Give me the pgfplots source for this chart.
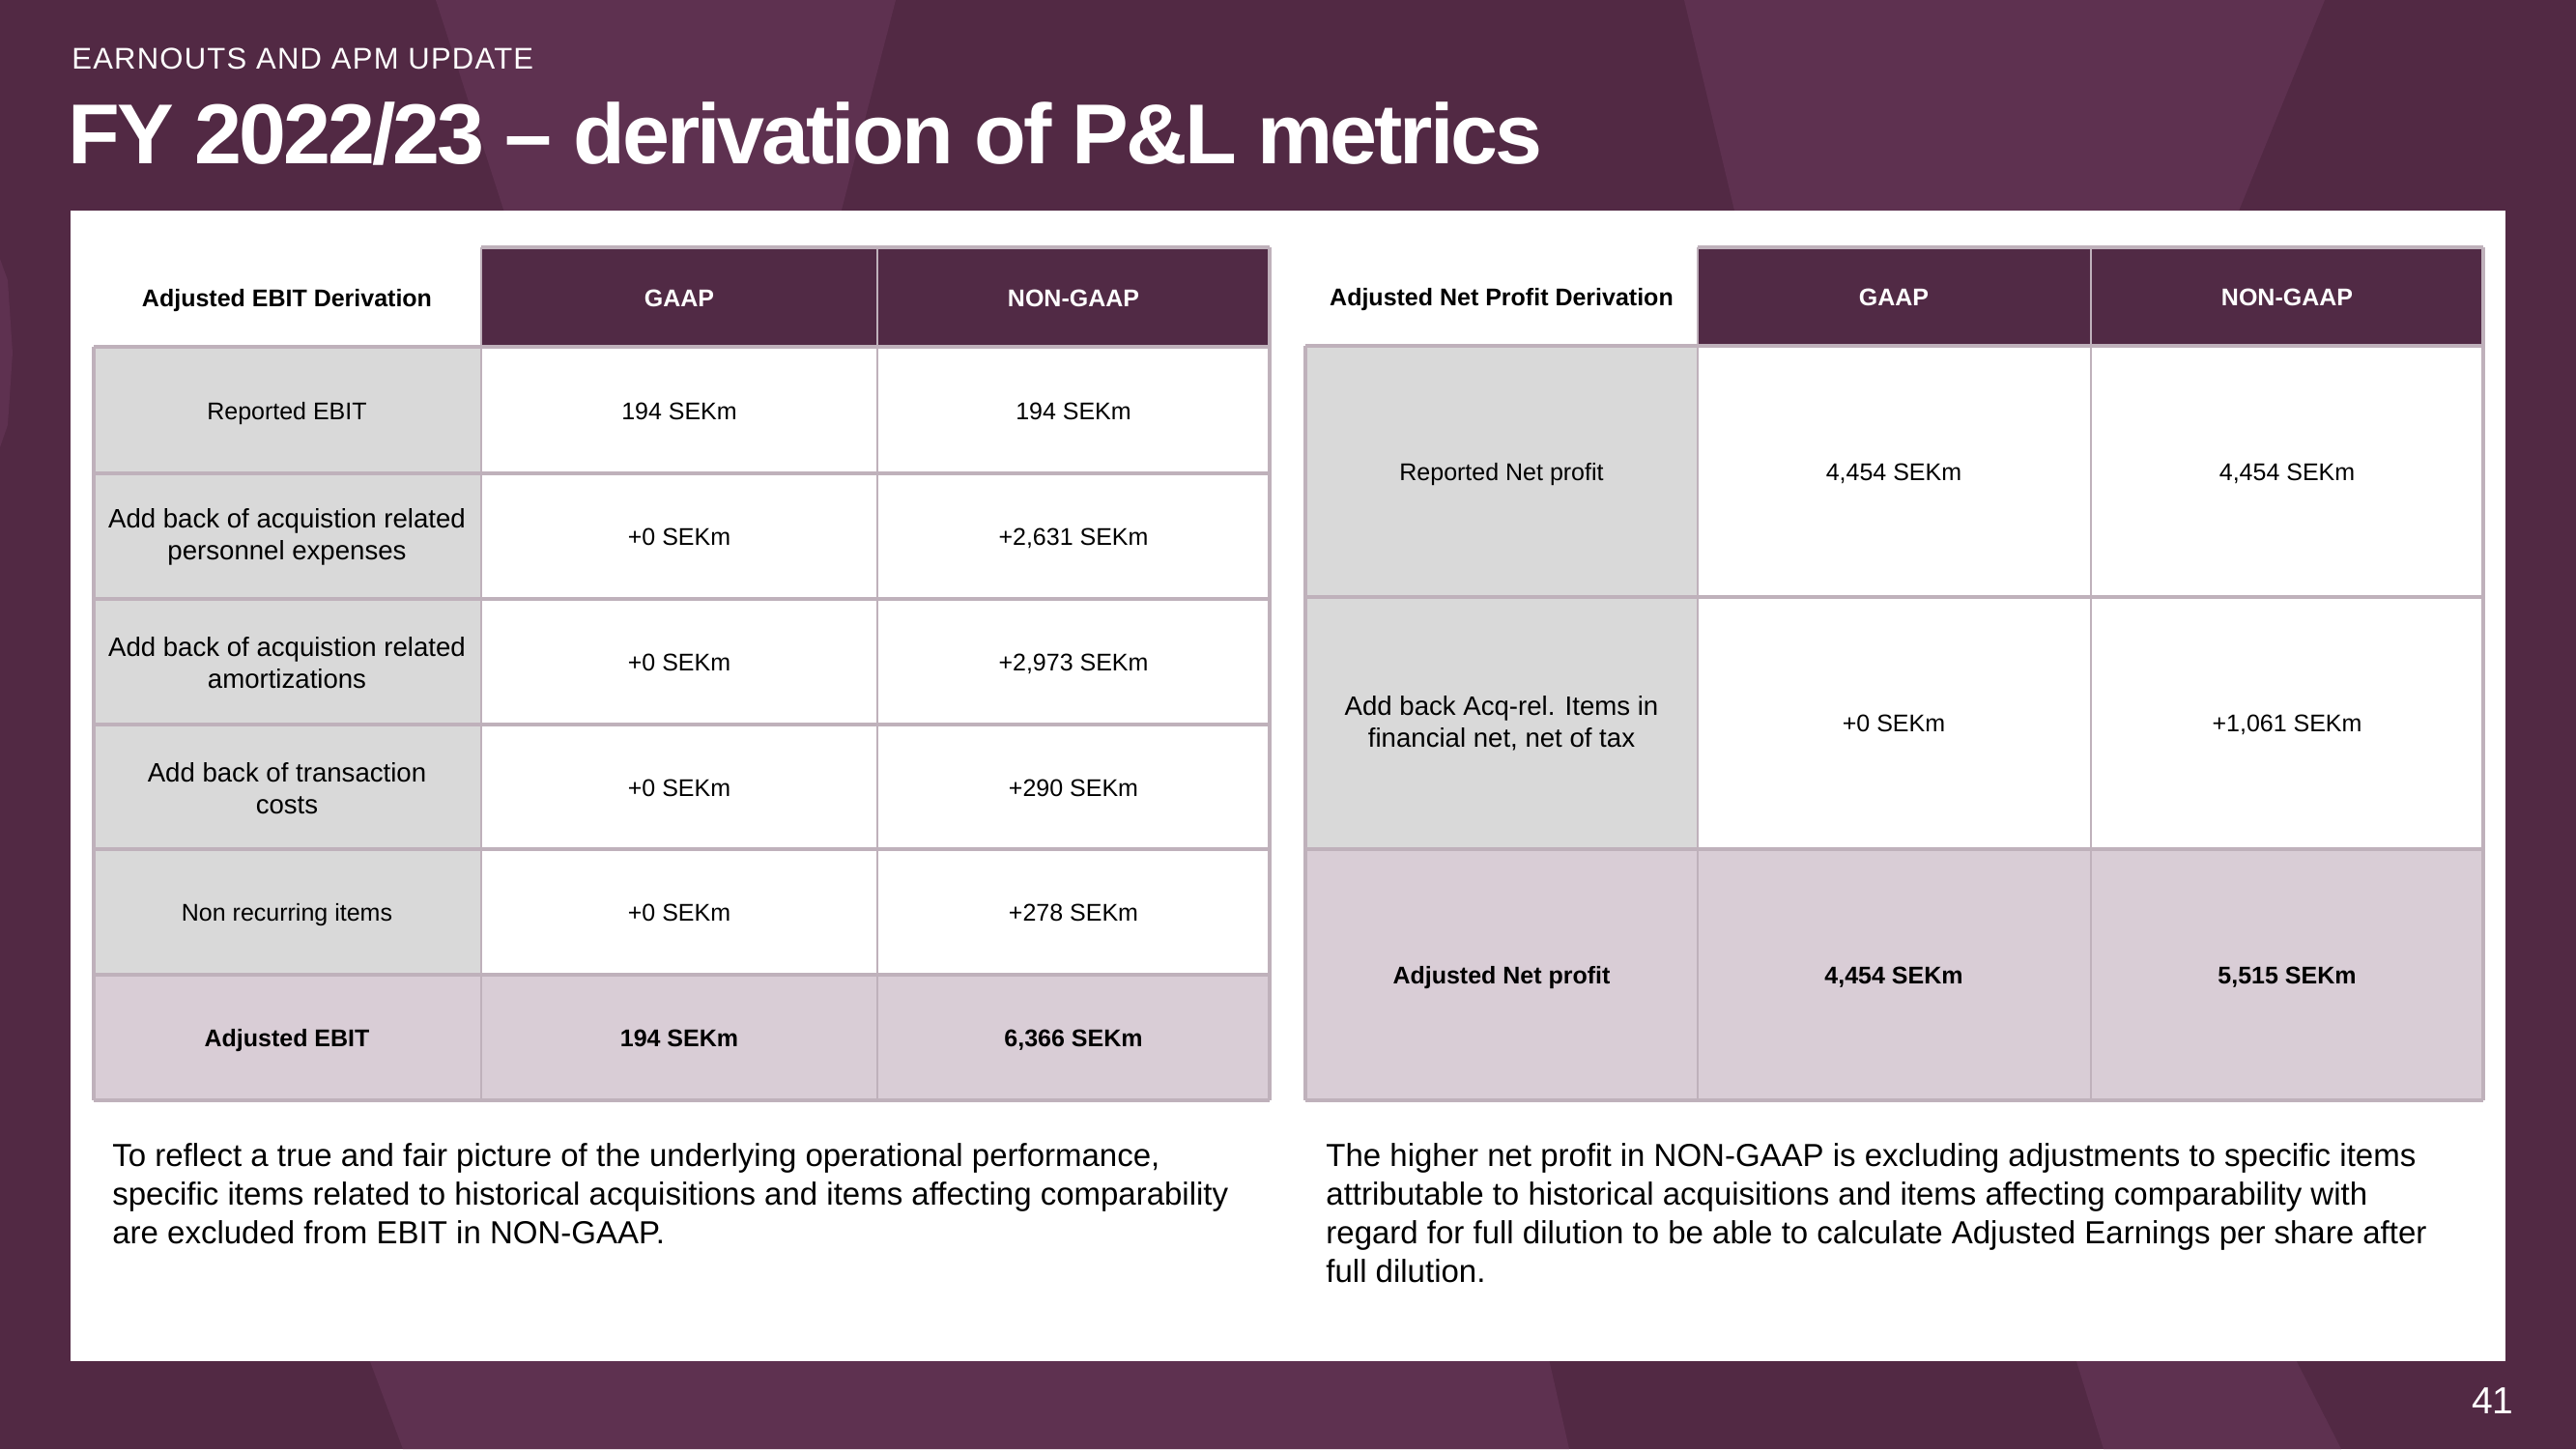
\documentclass[border=0pt]{standalone}
\usepackage{pgfplots}
\pgfplotsset{compat=1.18}
\usepackage{fontspec}
\setmainfont{Liberation Sans}
\newfontfamily\titlefont[LetterSpace=-3.4]{Liberation Sans}
\newfontfamily\subfont[LetterSpace=4]{Liberation Sans}
\definecolor{bg}{HTML}{522944}
\definecolor{bglight}{HTML}{5E3150}
\definecolor{hdr}{HTML}{512A45}
\definecolor{gridc}{HTML}{BFB1BB}
\definecolor{lab}{HTML}{D9D9D9}
\definecolor{adj}{HTML}{D9CDD6}
\newcommand\fsa{\fontsize{12.5}{15}\selectfont}
\newcommand\fsb{\fontsize{13.8}{16.5}\selectfont}
\newcommand\fsc{\fontsize{16.5}{20}\selectfont}
\tikzset{
  cell/.style={align=center,text=black,inner sep=0pt},
  one/.style={anchor=base,text=black,inner sep=0pt,yshift=-4.5pt},
  hl/.style={draw=gridc,line width=1.7pt},
  vl/.style={draw=gridc,line width=1.1pt}}
\begin{document}
\begin{tikzpicture}
\begin{axis}[width=1333pt,height=750pt,scale only axis,
  xmin=0,xmax=2666,ymin=0,ymax=1500,y dir=reverse,hide axis,clip=false]
% background
\fill[bg] (axis cs:0,0) rectangle (axis cs:2666,1500);
\fill[bglight] (axis cs:451,0) -- (axis cs:927,0) -- (axis cs:860,260) -- (axis cs:535,260) -- cycle;
\fill[bglight] (axis cs:1743,0) -- (axis cs:2406,0) -- (axis cs:2300,260) -- (axis cs:1805,260) -- cycle;
\fill[bglight] (axis cs:372,1380) -- (axis cs:1597,1380) -- (axis cs:1624,1500) -- (axis cs:417,1500) -- cycle;
\fill[bglight] (axis cs:2140,1380) -- (axis cs:2362,1380) -- (axis cs:2423,1500) -- (axis cs:2177,1500) -- cycle;
\fill[bglight] (axis cs:0,268) -- (axis cs:8,290) -- (axis cs:13,365) -- (axis cs:8,440) -- (axis cs:0,463) -- cycle;
% white panel
\fill[white] (axis cs:73,218) rectangle (axis cs:2593,1409);
% titles
\node[anchor=base west,inner sep=0pt,text=white,font=\subfont\fontsize{15.5}{18}\selectfont] at (axis cs:74,71) {EARNOUTS AND APM UPDATE};
\node[anchor=base west,inner sep=0pt,text=white,font=\titlefont\bfseries\fontsize{44}{50}\selectfont] at (axis cs:70,169) {FY 2022/23 – derivation of P\&L metrics};
\node[anchor=base east,inner sep=0pt,text=white,font=\fontsize{19.5}{22}\selectfont] at (axis cs:2602,1463) {41};
% ---------------- left table
\fill[hdr] (axis cs:498,256) rectangle (axis cs:1314,359);
\fill[lab] (axis cs:97,359) rectangle (axis cs:498,1009);
\fill[adj] (axis cs:97,1009) rectangle (axis cs:1314,1139);
\draw[hl] (axis cs:498,256) -- (axis cs:1314,256);
\draw[hl] (axis cs:97,359) -- (axis cs:1314,359);
\draw[hl] (axis cs:97,490) -- (axis cs:1314,490);
\draw[hl] (axis cs:97,620) -- (axis cs:1314,620);
\draw[hl] (axis cs:97,750) -- (axis cs:1314,750);
\draw[hl] (axis cs:97,879) -- (axis cs:1314,879);
\draw[hl] (axis cs:97,1009) -- (axis cs:1314,1009);
\draw[hl] (axis cs:97,1139) -- (axis cs:1314,1139);
\draw[hl] (axis cs:97,359) -- (axis cs:97,1139);
\draw[vl] (axis cs:498,256) -- (axis cs:498,1139);
\draw[vl] (axis cs:908,256) -- (axis cs:908,1139);
\draw[hl] (axis cs:1314,256) -- (axis cs:1314,1139);
\node[one,font=\fsa\bfseries] at (axis cs:297,308) {Adjusted EBIT Derivation};
\node[one,font=\fsa\bfseries,text=white] at (axis cs:703,308) {GAAP};
\node[one,font=\fsa\bfseries,text=white] at (axis cs:1111,308) {NON-GAAP};
\node[one,font=\fsa] at (axis cs:297,425) {Reported EBIT};
\node[one,font=\fsa] at (axis cs:703,425) {194 SEKm};
\node[one,font=\fsa] at (axis cs:1111,425) {194 SEKm};
\node[cell,font=\fsb] at (axis cs:297,556) {Add back of acquistion related\\personnel expenses};
\node[one,font=\fsa] at (axis cs:703,555) {+0 SEKm};
\node[one,font=\fsa] at (axis cs:1111,555) {+2,631 SEKm};
\node[cell,font=\fsb] at (axis cs:297,686) {Add back of acquistion related\\amortizations};
\node[one,font=\fsa] at (axis cs:703,685) {+0 SEKm};
\node[one,font=\fsa] at (axis cs:1111,685) {+2,973 SEKm};
\node[cell,font=\fsb] at (axis cs:297,816) {Add back of transaction\\costs};
\node[one,font=\fsa] at (axis cs:703,815) {+0 SEKm};
\node[one,font=\fsa] at (axis cs:1111,815) {+290 SEKm};
\node[one,font=\fsa] at (axis cs:297,944) {Non recurring items};
\node[one,font=\fsa] at (axis cs:703,944) {+0 SEKm};
\node[one,font=\fsa] at (axis cs:1111,944) {+278 SEKm};
\node[one,font=\fsa\bfseries] at (axis cs:297,1074) {Adjusted EBIT};
\node[one,font=\fsa\bfseries] at (axis cs:703,1074) {194 SEKm};
\node[one,font=\fsa\bfseries] at (axis cs:1111,1074) {6,366 SEKm};
% ---------------- right table
\fill[hdr] (axis cs:1757,256) rectangle (axis cs:2570,358);
\fill[lab] (axis cs:1351,358) rectangle (axis cs:1757,879);
\fill[adj] (axis cs:1351,879) rectangle (axis cs:2570,1139);
\draw[hl] (axis cs:1757,256) -- (axis cs:2570,256);
\draw[hl] (axis cs:1351,358) -- (axis cs:2570,358);
\draw[hl] (axis cs:1351,618) -- (axis cs:2570,618);
\draw[hl] (axis cs:1351,879) -- (axis cs:2570,879);
\draw[hl] (axis cs:1351,1139) -- (axis cs:2570,1139);
\draw[hl] (axis cs:1351,358) -- (axis cs:1351,1139);
\draw[vl] (axis cs:1757,256) -- (axis cs:1757,1139);
\draw[vl] (axis cs:2164,256) -- (axis cs:2164,1139);
\draw[hl] (axis cs:2570,256) -- (axis cs:2570,1139);
\node[one,font=\fsa\bfseries] at (axis cs:1554,307) {Adjusted Net Profit Derivation};
\node[one,font=\fsa\bfseries,text=white] at (axis cs:1960,307) {GAAP};
\node[one,font=\fsa\bfseries,text=white] at (axis cs:2367,307) {NON-GAAP};
\node[one,font=\fsa] at (axis cs:1554,488) {Reported Net profit};
\node[one,font=\fsa] at (axis cs:1960,488) {4,454 SEKm};
\node[one,font=\fsa] at (axis cs:2367,488) {4,454 SEKm};
\node[cell,font=\fsb] at (axis cs:1554,749) {Add back Acq-rel. Items in\\financial net, net of tax};
\node[one,font=\fsa] at (axis cs:1960,748) {+0 SEKm};
\node[one,font=\fsa] at (axis cs:2367,748) {+1,061 SEKm};
\node[one,font=\fsa\bfseries] at (axis cs:1554,1009) {Adjusted Net profit};
\node[one,font=\fsa\bfseries] at (axis cs:1960,1009) {4,454 SEKm};
\node[one,font=\fsa\bfseries] at (axis cs:2367,1009) {5,515 SEKm};
% ---------------- paragraphs
\node[anchor=base west,inner sep=0pt,font=\fsc] at (axis cs:116,1207) {To reflect a true and fair picture of the underlying operational performance,};
\node[anchor=base west,inner sep=0pt,font=\fsc] at (axis cs:116,1247) {specific items related to historical acquisitions and items affecting comparability};
\node[anchor=base west,inner sep=0pt,font=\fsc] at (axis cs:116,1287) {are excluded from EBIT in NON-GAAP.};
\node[anchor=base west,inner sep=0pt,font=\fsc] at (axis cs:1372,1207) {The higher net profit in NON-GAAP is excluding adjustments to specific items};
\node[anchor=base west,inner sep=0pt,font=\fsc] at (axis cs:1372,1247) {attributable to historical acquisitions and items affecting comparability with};
\node[anchor=base west,inner sep=0pt,font=\fsc] at (axis cs:1372,1287) {regard for full dilution to be able to calculate Adjusted Earnings per share after};
\node[anchor=base west,inner sep=0pt,font=\fsc] at (axis cs:1372,1327) {full dilution.};
\end{axis}
\end{tikzpicture}
\end{document}
